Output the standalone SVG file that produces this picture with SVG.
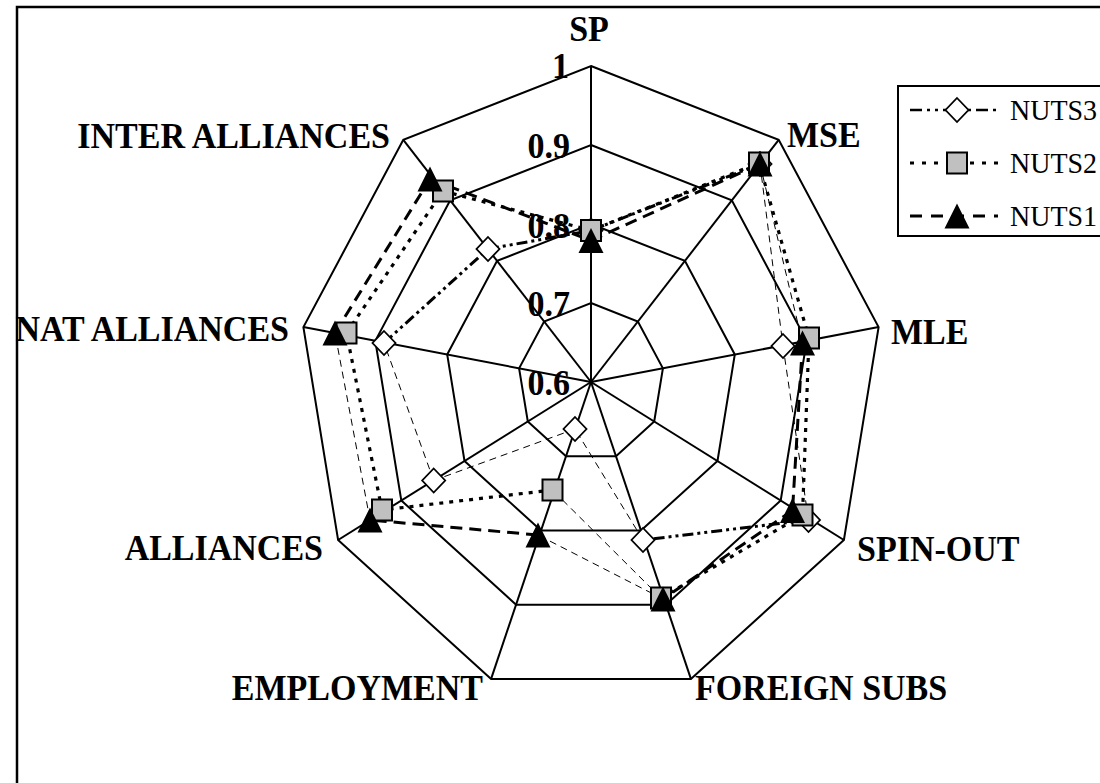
<svg xmlns="http://www.w3.org/2000/svg" xmlns:xlink="http://www.w3.org/1999/xlink" width="1100" height="783" viewBox="0 0 1100 783">
  <style>
    .grid { fill: none; stroke: #000; stroke-width: 2; stroke-linejoin: miter; }
    .spoke { stroke: #000; stroke-width: 2; }
    .lbl { font-family: "Liberation Serif", "Times New Roman", serif; font-weight: bold; font-size: 34px; fill: #000; }
    .leg { font-family: "Liberation Serif", "Times New Roman", serif; font-size: 28px; fill: #000; }
    .thin { stroke: #000; stroke-width: 1; stroke-dasharray: 7 5; fill: none; }
    .n3 { stroke: #000; stroke-width: 3; stroke-dasharray: 11 4 3 4 3 4; fill: none; }
    .n2 { stroke: #000; stroke-width: 3.2; stroke-dasharray: 4 6; fill: none; }
    .n1 { stroke: #000; stroke-width: 3; stroke-dasharray: 12 7; fill: none; }
    .frame { fill: none; stroke: #000; stroke-width: 2.5; }
  </style>
  <defs>
    <polygon id="dia" points="0,-12 11.5,0 0,12 -11.5,0" fill="#fff" stroke="#000" stroke-width="1.8"/>
    <rect id="sq" x="-10" y="-10.5" width="20" height="21" fill="#c0c0c0" stroke="#000" stroke-width="2"/>
    <polygon id="tri" points="0,-12.5 12.5,12.5 -12.5,12.5" fill="#000"/>
  </defs>

  <rect width="1100" height="783" fill="#fff"/>
  <!-- chart frame -->
  <rect class="frame" x="17" y="7" width="1110" height="800"/>

  <!-- radar grid: rings at 0.7, 0.8, 0.9, 1.0 -->
  <g id="grid">
    <polygon class="grid" points="591,303 637.9,321.5 662.9,368.3 654.2,421.5 616,456.2 566,456.2 527.8,421.5 519.1,368.3 544.1,321.5"/>
    <polygon class="grid" points="591,224 684.9,260.9 734.8,354.5 717.5,461 641,530.5 541,530.5 464.5,461 447.2,354.5 497.1,260.9"/>
    <polygon class="grid" points="591,145 731.8,200.4 806.7,340.8 780.7,500.5 665.9,604.7 516.1,604.7 401.3,500.5 375.3,340.8 450.2,200.4"/>
    <polygon class="grid" points="591,66 778.7,139.9 878.6,327.1 843.9,540 690.9,678.9 491.1,678.9 338.1,540 303.4,327.1 403.3,139.9"/>
    <line class="spoke" x1="591" y1="382" x2="591" y2="66"/>
    <line class="spoke" x1="591" y1="382" x2="778.7" y2="139.9"/>
    <line class="spoke" x1="591" y1="382" x2="878.6" y2="327.1"/>
    <line class="spoke" x1="591" y1="382" x2="843.9" y2="540"/>
    <line class="spoke" x1="591" y1="382" x2="690.9" y2="678.9"/>
    <line class="spoke" x1="591" y1="382" x2="491.1" y2="678.9"/>
    <line class="spoke" x1="591" y1="382" x2="338.1" y2="540"/>
    <line class="spoke" x1="591" y1="382" x2="303.4" y2="327.1"/>
    <line class="spoke" x1="591" y1="382" x2="403.3" y2="139.9"/>
  </g>

  <!-- scale values -->
  <g id="ticks" class="lbl" text-anchor="end">
    <text transform="translate(569,78) scale(1,1.07)">1</text>
    <text transform="translate(570,158) scale(1,1.07)">0.9</text>
    <text transform="translate(570,238) scale(1,1.07)">0.8</text>
    <text transform="translate(570,316) scale(1,1.07)">0.7</text>
    <text transform="translate(570,395) scale(1,1.07)">0.6</text>
  </g>

  <!-- axis labels -->
  <g id="axis-labels" class="lbl">
    <text id="lbl-sp" transform="translate(589,41) scale(1,1.07)" text-anchor="middle">SP</text>
    <text id="lbl-mse" transform="translate(787,147) scale(1,1.07)">MSE</text>
    <text id="lbl-mle" transform="translate(891,344) scale(1,1.07)">MLE</text>
    <text id="lbl-spin" transform="translate(857,561) scale(1,1.07)">SPIN-OUT</text>
    <text id="lbl-foreign" transform="translate(695,700) scale(1,1.07)">FOREIGN SUBS</text>
    <text id="lbl-employment" transform="translate(483,700) scale(1,1.07)" text-anchor="end">EMPLOYMENT</text>
    <text id="lbl-alliances" transform="translate(323,560) scale(1,1.07)" text-anchor="end">ALLIANCES</text>
    <text id="lbl-nat" transform="translate(289,341) scale(1,1.07)" text-anchor="end">NAT ALLIANCES</text>
    <text id="lbl-inter" transform="translate(390,148) scale(1,1.07)" text-anchor="end">INTER ALLIANCES</text>
  </g>

  <!-- series lines -->
  <g id="connectors">
    <!-- NUTS3 -->
    <line class="n3" x1="591" y1="230.5" x2="760" y2="164"/>
    <line class="thin" x1="760" y1="164" x2="783" y2="346"/>
    <line class="thin" x1="783" y1="346" x2="808.5" y2="520"/>
    <line class="n3" x1="808.5" y1="520" x2="643" y2="540"/>
    <line class="thin" x1="643" y1="540" x2="575" y2="429"/>
    <line class="thin" x1="575" y1="429" x2="433.7" y2="480.5"/>
    <line class="thin" x1="433.7" y1="480.5" x2="384" y2="343"/>
    <line class="n3" x1="384" y1="343" x2="488" y2="249"/>
    <line class="n3" x1="488" y1="249" x2="591" y2="230.5"/>
    <!-- NUTS2 -->
    <line class="n2" x1="591" y1="230.5" x2="759" y2="163"/>
    <line class="n2" x1="759" y1="163" x2="809" y2="338"/>
    <line class="n2" x1="809" y1="338" x2="802.5" y2="515"/>
    <line class="n2" x1="802.5" y1="515" x2="661" y2="598"/>
    <line class="thin" x1="661" y1="598" x2="552.5" y2="490"/>
    <line class="n2" x1="552.5" y1="490" x2="382" y2="510"/>
    <line class="n2" x1="382" y1="510" x2="346.5" y2="333"/>
    <line class="n2" x1="346.5" y1="333" x2="443" y2="191"/>
    <line class="n2" x1="443" y1="191" x2="591" y2="230.5"/>
    <!-- NUTS1 -->
    <line class="n1" x1="591" y1="240.5" x2="760" y2="164"/>
    <line class="thin" x1="760" y1="164" x2="802.5" y2="343"/>
    <line class="n1" x1="802.5" y1="343" x2="792.5" y2="510.5"/>
    <line class="n1" x1="792.5" y1="510.5" x2="663" y2="599"/>
    <line class="thin" x1="663" y1="599" x2="538" y2="535"/>
    <line class="n1" x1="538" y1="535" x2="370" y2="520"/>
    <line class="thin" x1="370" y1="520" x2="335" y2="333"/>
    <line class="n1" x1="335" y1="333" x2="430" y2="179"/>
    <line class="n1" x1="430" y1="179" x2="591" y2="240.5"/>
  </g>

  <!-- data markers -->
  <g id="nuts3-points">
    <use href="#dia" x="591" y="230.5"/>
    <use href="#dia" x="760" y="164"/>
    <use href="#dia" x="783" y="346"/>
    <use href="#dia" x="808.5" y="520"/>
    <use href="#dia" x="643" y="540"/>
    <use href="#dia" x="575" y="429"/>
    <use href="#dia" x="433.7" y="480.5"/>
    <use href="#dia" x="384" y="343"/>
    <use href="#dia" x="488" y="249"/>
  </g>
  <g id="nuts2-points">
    <use href="#sq" x="591" y="230.5"/>
    <use href="#sq" x="759" y="163"/>
    <use href="#sq" x="809" y="338"/>
    <use href="#sq" x="802.5" y="515"/>
    <use href="#sq" x="661" y="598"/>
    <use href="#sq" x="552.5" y="490"/>
    <use href="#sq" x="382" y="510"/>
    <use href="#sq" x="346.5" y="333"/>
    <use href="#sq" x="443" y="191"/>
  </g>
  <g id="nuts1-points">
    <use href="#tri" x="591" y="240.5"/>
    <use href="#tri" x="760" y="164"/>
    <use href="#tri" x="802.5" y="343"/>
    <use href="#tri" x="792.5" y="510.5"/>
    <use href="#tri" x="663" y="599"/>
    <use href="#tri" x="538" y="535"/>
    <use href="#tri" x="370" y="520"/>
    <use href="#tri" x="335" y="333"/>
    <use href="#tri" x="430" y="179"/>
  </g>

  <!-- legend -->
  <g id="legend">
    <rect x="898" y="86" width="230" height="150" fill="#fff" stroke="#000" stroke-width="2"/>
    <g id="legend-nuts3">
      <line class="n3" x1="910" y1="110" x2="998" y2="110" style="stroke-dasharray: 12 5 3 5 3 5; stroke-width: 2.5"/>
      <use href="#dia" x="957" y="110"/>
      <text class="leg" transform="translate(1010,120) scale(1,1.07)">NUTS3</text>
    </g>
    <g id="legend-nuts2">
      <line class="n2" x1="910" y1="163" x2="998" y2="163" style="stroke-dasharray: 4 8"/>
      <use href="#sq" x="957" y="163"/>
      <text class="leg" transform="translate(1010,173) scale(1,1.07)">NUTS2</text>
    </g>
    <g id="legend-nuts1">
      <line class="n1" x1="910" y1="216" x2="998" y2="216" style="stroke-dasharray: 12 9"/>
      <use href="#tri" x="957" y="216"/>
      <text class="leg" transform="translate(1010,226) scale(1,1.07)">NUTS1</text>
    </g>
  </g>
</svg>
